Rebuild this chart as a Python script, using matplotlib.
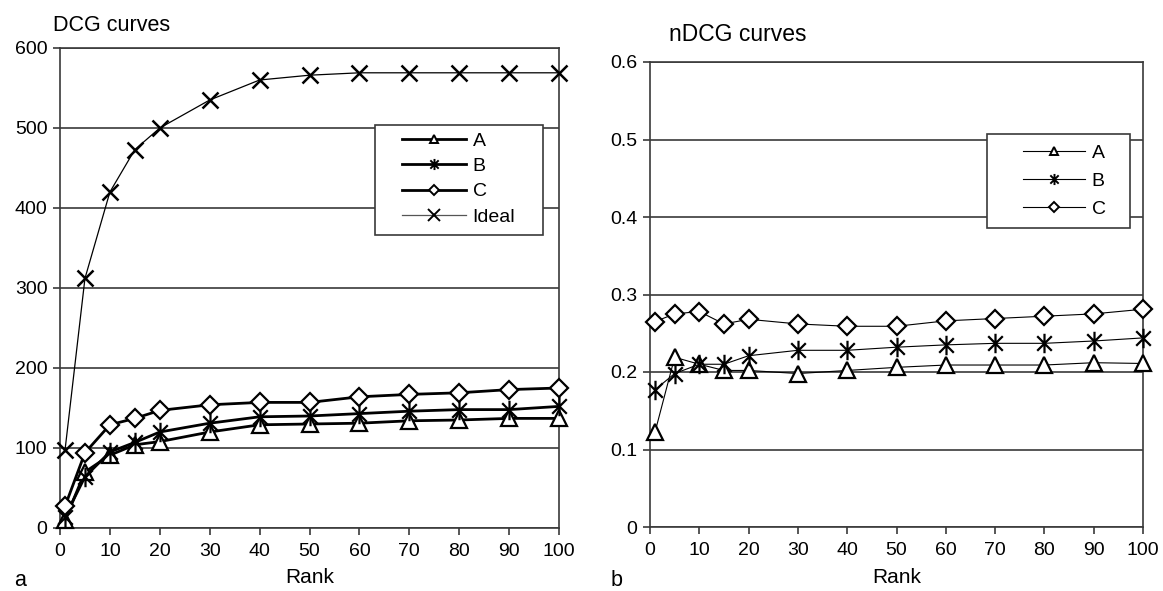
import matplotlib
matplotlib.use("Agg")
import matplotlib.pyplot as plt
from matplotlib.path import Path
from matplotlib.lines import Line2D
from matplotlib.patches import Rectangle

plt.rcParams['font.family'] = ['Liberation Sans', 'DejaVu Sans']

# Rank cut-off values
ranks = [1, 5, 10, 15, 20, 30, 40, 50, 60, 70, 80, 90, 100]

# DCG values per run
dcg_a = [10, 70, 91, 104, 108, 120, 129, 130, 131, 134, 135, 137, 137]
dcg_b = [14, 64, 95, 107, 120, 131, 139, 140, 143, 146, 148, 148, 152]
dcg_c = [27, 94, 129, 137, 147, 154, 157, 157, 164, 167, 169, 173, 175]
dcg_ideal = [97, 312, 420, 473, 500, 535, 560, 566, 569, 569, 569, 569, 569]

# nDCG values per run
ndcg_a = [0.122, 0.219, 0.210, 0.202, 0.202, 0.198, 0.202, 0.206, 0.209, 0.209, 0.209, 0.212, 0.211]
ndcg_b = [0.177, 0.198, 0.210, 0.210, 0.221, 0.228, 0.228, 0.232, 0.235, 0.237, 0.237, 0.240, 0.244]
ndcg_c = [0.265, 0.275, 0.278, 0.262, 0.268, 0.262, 0.259, 0.259, 0.266, 0.269, 0.272, 0.275, 0.281]

x_ticks = list(range(0, 101, 10))
dcg_yticks = [0, 100, 200, 300, 400, 500, 600]
ndcg_yticks = [0, 0.1, 0.2, 0.3, 0.4, 0.5, 0.6]

# asterisk marker: vertical bar plus diagonal cross
star = Path([(0, -1), (0, 1), (-0.75, -0.75), (0.75, 0.75), (-0.75, 0.75), (0.75, -0.75)],
            [Path.MOVETO, Path.LINETO, Path.MOVETO, Path.LINETO, Path.MOVETO, Path.LINETO])

fig = plt.figure(figsize=(11.63, 5.91), dpi=100)
W, H = 1163, 591

def add_axes(l, r, t, b):
    return fig.add_axes([l / W, 1 - b / H, (r - l) / W, (b - t) / H])

ax1 = add_axes(60, 559, 48, 528)
ax2 = add_axes(650, 1143, 62, 527)

grid_c = '#3a3a3a'

def style(ax, yticks, label_y):
    ax.set_xlim(0, 100)
    ax.set_ylim(yticks[0], yticks[-1])
    ax.set_xticks(x_ticks)
    ax.set_yticks(yticks)
    ax.set_yticklabels([f"{v:g}" for v in yticks])
    ax.tick_params(axis='both', direction='out', length=5, width=1.2, color=grid_c,
                   labelsize=14, pad=4)
    ax.tick_params(axis='x', pad=6)
    for s in ax.spines.values():
        s.set_color(grid_c)
        s.set_linewidth(1.2)
    ax.yaxis.grid(True, color=grid_c, linewidth=1.2)
    ax.set_axisbelow(True)
    ax.set_xlabel('Rank', fontsize=15, va='top')
    ax.xaxis.set_label_coords(0.5, label_y)

ms_tri = dict(marker='^', markersize=11, markerfacecolor='white', markeredgecolor='black', markeredgewidth=1.6)
ms_star = dict(marker=star, markersize=14, markeredgecolor='black', markeredgewidth=1.6, fillstyle='none')
ms_dia = dict(marker='D', markersize=9.5, markerfacecolor='white', markeredgecolor='black', markeredgewidth=1.6)
ms_x = dict(marker='x', markersize=12, markeredgecolor='black', markeredgewidth=1.8)

# DCG panel
ax1.plot(ranks, dcg_ideal, color='black', lw=0.9, clip_on=False, zorder=3, **ms_x)
ax1.plot(ranks, dcg_a, color='black', lw=2.0, clip_on=False, zorder=4, **ms_tri)
ax1.plot(ranks, dcg_b, color='black', lw=2.0, clip_on=False, zorder=4, **ms_star)
ax1.plot(ranks, dcg_c, color='black', lw=2.0, clip_on=False, zorder=4, **ms_dia)
style(ax1, dcg_yticks, (528 - 568) / 480)

# nDCG panel
ax2.plot(ranks, ndcg_a, color='black', lw=0.8, clip_on=False, zorder=4, **ms_tri)
ax2.plot(ranks, ndcg_b, color='black', lw=0.8, clip_on=False, zorder=4, **ms_star)
ax2.plot(ranks, ndcg_c, color='black', lw=0.8, clip_on=False, zorder=4, **ms_dia)
style(ax2, ndcg_yticks, (527 - 568) / 465)

def small(marker, lw, ms, color='black', **kw):
    return Line2D([], [], color=color, lw=lw, marker=marker, markersize=ms,
                  markeredgecolor='black', markeredgewidth=1.4, **kw)

def boxed_legend(ax, handles, labels, box, anchor, spacing, hlen):
    ax.add_patch(Rectangle(box[:2], box[2], box[3], transform=ax.transAxes,
                           facecolor='white', edgecolor=grid_c, linewidth=1.2, zorder=5))
    leg = ax.legend(handles, labels, loc='upper left', bbox_to_anchor=anchor,
                    borderaxespad=0, borderpad=0, fontsize=14, handlelength=hlen,
                    handletextpad=0.33, labelspacing=spacing, frameon=False)
    leg.set_zorder(6)
    return leg

h1 = [small('^', 2.0, 6, markerfacecolor='white'),
      small(star, 2.0, 8, fillstyle='none'),
      small('D', 2.0, 5, markerfacecolor='white'),
      small('x', 0.9, 8, color='#555555')]
boxed_legend(ax1, h1, ['A', 'B', 'C', 'Ideal'],
             (0.631, 0.6104, 0.3367, 0.2292), (0.6854, 0.825), 0.40, 3.3)

h2 = [small('^', 0.8, 6, markerfacecolor='white'),
      small(star, 0.8, 8, fillstyle='none'),
      small('D', 0.8, 5, markerfacecolor='white')]
boxed_legend(ax2, h2, ['A', 'B', 'C'],
             (0.6836, 0.643, 0.290, 0.2022), (0.7566, 0.8237), 0.54, 3.2)

fig.text(53 / W, 1 - 31 / H, 'DCG curves', fontsize=15.5, ha='left', va='baseline')
fig.text(669 / W, 1 - 41 / H, 'nDCG curves', fontsize=16.5, ha='left', va='baseline')
fig.text(14 / W, 1 - 586 / H, 'a', fontsize=15.5, ha='left', va='baseline')
fig.text(611 / W, 1 - 586 / H, 'b', fontsize=15.5, ha='left', va='baseline')

fig.savefig('out.png', dpi=100)
